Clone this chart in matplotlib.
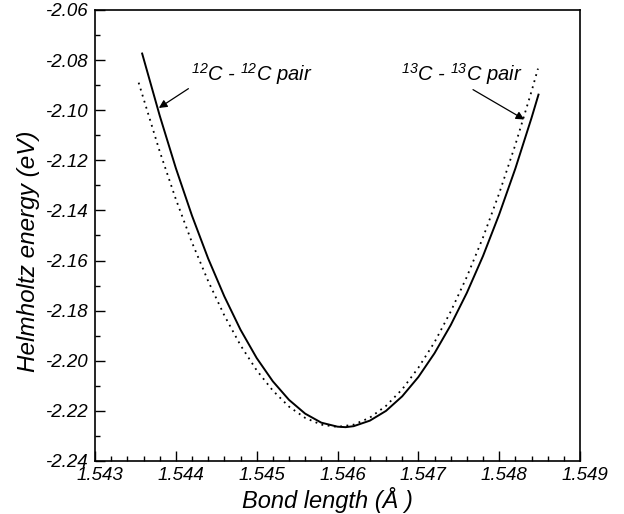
import numpy as np
import matplotlib
matplotlib.use("Agg")
import matplotlib.pyplot as plt
import matplotlib.transforms as mtransforms
from matplotlib.ticker import MultipleLocator, FormatStrFormatter

plt.rcParams['font.family'] = ['Liberation Sans', 'DejaVu Sans']
plt.rcParams['font.style'] = 'italic'
plt.rcParams['axes.unicode_minus'] = False
plt.rcParams['mathtext.fontset'] = 'custom'
plt.rcParams['mathtext.rm'] = 'Liberation Sans:italic'
plt.rcParams['mathtext.it'] = 'Liberation Sans:italic'

# 12C - 12C pair (solid)
x_12 = [1.54358, 1.5438, 1.5440, 1.5442, 1.5444, 1.5446, 1.5448, 1.5450, 1.5452,
        1.5454, 1.5456, 1.5458, 1.5460, 1.54610, 1.5462, 1.5464, 1.5466, 1.5468,
        1.5470, 1.5472, 1.5474, 1.5476, 1.5478, 1.5480, 1.5482, 1.5484, 1.54849]
e_12 = [-2.0770, -2.1021, -2.1231, -2.1421, -2.1592, -2.1743, -2.1876, -2.1989, -2.2082,
        -2.2156, -2.2211, -2.2247, -2.2263, -2.2265, -2.2261, -2.2239, -2.2200, -2.2142,
        -2.2065, -2.1970, -2.1858, -2.1729, -2.1582, -2.1416, -2.1233, -2.1031, -2.0934]

# 13C - 13C pair (dotted)
x_13 = [1.54354, 1.5438, 1.5440, 1.5442, 1.5444, 1.5446, 1.5448, 1.5450, 1.5452,
        1.5454, 1.5456, 1.5458, 1.5460, 1.5462, 1.5464, 1.5466, 1.5468, 1.5470,
        1.5472, 1.5474, 1.5476, 1.5478, 1.5480, 1.5482, 1.5484, 1.54848]
e_13 = [-2.0890, -2.1164, -2.1355, -2.1528, -2.1682, -2.1819, -2.1938, -2.2038, -2.2119,
        -2.2183, -2.2228, -2.2255, -2.2264, -2.2255, -2.2227, -2.2180, -2.2114, -2.2028,
        -2.1926, -2.1804, -2.1665, -2.1508, -2.1332, -2.1138, -2.0925, -2.0834]

fig = plt.figure(figsize=(6.24, 5.14), dpi=100)
ax = fig.add_axes([95 / 624, 1 - 461 / 514, 485 / 624, 451 / 514])

ax.plot(x_12, e_12, color='black', lw=1.4, solid_capstyle='butt')
ax.plot(x_13, e_13, color='black', lw=1.3, linestyle=(0, (1, 2.5)))

ax.set_xlim(1.543, 1.549)
ax.set_ylim(-2.24, -2.06)
ax.xaxis.set_major_locator(MultipleLocator(0.001))
ax.xaxis.set_minor_locator(MultipleLocator(0.0002))
ax.yaxis.set_major_locator(MultipleLocator(0.02))
ax.yaxis.set_minor_locator(MultipleLocator(0.01))
ax.xaxis.set_major_formatter(FormatStrFormatter('%.3f'))
ax.yaxis.set_major_formatter(FormatStrFormatter('%.2f'))
ax.tick_params(which='both', direction='in', top=False, right=False, width=1, labelsize=13.5)
ax.tick_params(which='major', length=7.2)
ax.tick_params(which='minor', length=3.6)
ax.tick_params(axis='x', pad=4.5)
ax.tick_params(axis='y', pad=5.5)
for s in ax.spines.values():
    s.set_linewidth(1.2)

# italic labels in the reference sit a little right of their ticks
shift = mtransforms.ScaledTranslation(5 / 100, 0, fig.dpi_scale_trans)
for lab in ax.get_xticklabels():
    lab.set_transform(lab.get_transform() + shift)

ax.set_xlabel('Bond length (Å )', fontsize=17)
ax.set_ylabel('Helmholtz energy (eV)', fontsize=17.5)
ax.xaxis.set_label_coords(0.48, -0.087)
ax.xaxis.label.set_va('center')
ax.yaxis.set_label_coords(-0.138, 0.466)
ax.yaxis.label.set_va('center')

ax.annotate('$^{12}$C - $^{12}$C pair', xy=(1.54379, -2.0991), xytext=(1.54419, -2.0855),
            fontsize=14.5, ha='left', va='center',
            arrowprops=dict(arrowstyle='-|>', color='black', lw=0.9,
                            mutation_scale=12, shrinkA=0, shrinkB=0,
                            relpos=(0.0, 0.0)))
ax.annotate('$^{13}$C - $^{13}$C pair', xy=(1.54831, -2.1037), xytext=(1.54679, -2.0855),
            fontsize=14.5, ha='left', va='center',
            arrowprops=dict(arrowstyle='-|>', color='black', lw=0.9,
                            mutation_scale=12, shrinkA=0, shrinkB=0,
                            relpos=(0.55, 0.0)))

fig.savefig('out.png', dpi=100)
